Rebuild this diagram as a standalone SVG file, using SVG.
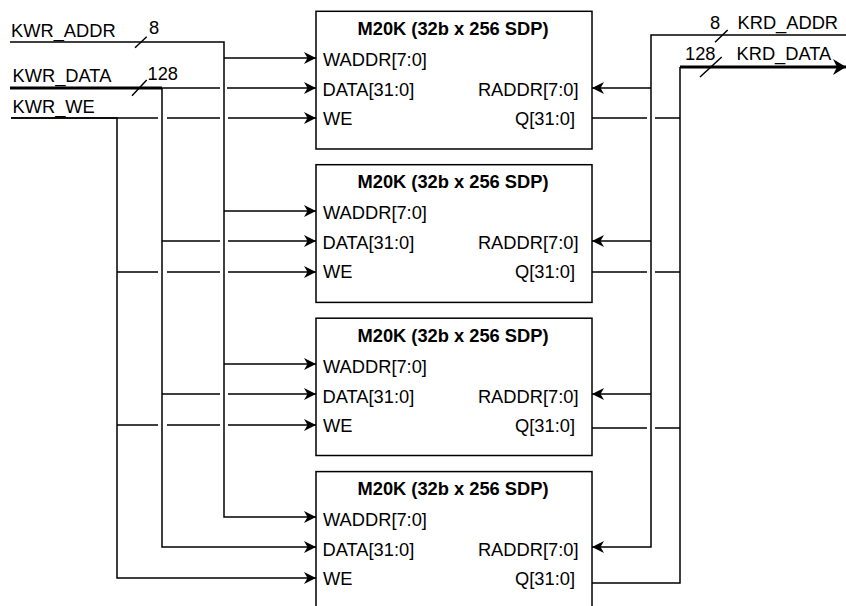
<svg xmlns="http://www.w3.org/2000/svg" width="846" height="606" viewBox="0 0 846 606">
<style>
text{font-family:"Liberation Sans",Arial,sans-serif;font-size:18.3px;fill:#000}
.t{font-weight:bold;text-anchor:middle}
.r{text-anchor:end}
.box{fill:#fff;stroke:#000;stroke-width:1.5}
.w{fill:none;stroke:#000;stroke-width:1.5}
.bus{fill:none;stroke:#000;stroke-width:3}
.a{marker-end:url(#arr)}
</style>
<defs>
<marker id="arr" markerUnits="userSpaceOnUse" viewBox="0 0 12 12" refX="12" refY="6" markerWidth="12" markerHeight="12" orient="auto">
<path d="M0,0 L12,6 L0,12 L3.5,6 Z" fill="#000"/>
</marker>
<marker id="arrBig" markerUnits="userSpaceOnUse" viewBox="0 0 13 16" refX="13" refY="8" markerWidth="13" markerHeight="16" orient="auto">
<path d="M0,0 L13,8 L0,16 L4,8 Z" fill="#000"/>
</marker>
</defs>
<rect width="846" height="606" fill="#fff"/>

<g id="m20k-1">
<rect class="box" x="316" y="11.3" width="276" height="137.7"/>
<text class="t" x="453" y="35">M20K (32b x 256 SDP)</text>
<text x="323" y="66">WADDR[7:0]</text>
<text x="322.5" y="96">DATA[31:0]</text>
<text x="323" y="125">WE</text>
<text class="r" x="578.5" y="96">RADDR[7:0]</text>
<text class="r" x="575" y="125">Q[31:0]</text>
</g>
<g id="m20k-2">
<rect class="box" x="316" y="164.7" width="276" height="137.7"/>
<text class="t" x="453" y="188.4">M20K (32b x 256 SDP)</text>
<text x="323" y="219.4">WADDR[7:0]</text>
<text x="322.5" y="249.4">DATA[31:0]</text>
<text x="323" y="278.4">WE</text>
<text class="r" x="578.5" y="249.4">RADDR[7:0]</text>
<text class="r" x="575" y="278.4">Q[31:0]</text>
</g>
<g id="m20k-3">
<rect class="box" x="316" y="318.2" width="276" height="137.3"/>
<text class="t" x="453" y="341.9">M20K (32b x 256 SDP)</text>
<text x="323" y="372.9">WADDR[7:0]</text>
<text x="322.5" y="402.9">DATA[31:0]</text>
<text x="323" y="431.9">WE</text>
<text class="r" x="578.5" y="402.9">RADDR[7:0]</text>
<text class="r" x="575" y="431.9">Q[31:0]</text>
</g>
<g id="m20k-4">
<rect class="box" x="316" y="471.6" width="276" height="140"/>
<text class="t" x="453" y="495.3">M20K (32b x 256 SDP)</text>
<text x="323" y="526.3">WADDR[7:0]</text>
<text x="322.5" y="556.3">DATA[31:0]</text>
<text x="323" y="585.3">WE</text>
<text class="r" x="578.5" y="556.3">RADDR[7:0]</text>
<text class="r" x="575" y="585.3">Q[31:0]</text>
</g>

<g id="connectors">
<!-- KWR_ADDR -->
<path class="w a" d="M10,42 H224 V517 H316"/>
<path class="w a" d="M224,58 H316"/>
<path class="w a" d="M224,211 H316"/>
<path class="w a" d="M224,364 H316"/>
<!-- KWR_DATA -->
<path class="bus" d="M10,88 H162"/>
<path class="w a" d="M162,88 V547 H316"/>
<path class="w a" d="M162,88 H220 M227,88 H316"/>
<path class="w a" d="M162,241 H220 M228,241 H316"/>
<path class="w a" d="M162,394 H220 M228,394 H316"/>
<!-- KWR_WE -->
<path class="w a" d="M11,118 H117 V578 H316"/>
<path class="w a" d="M11,118 H158 M167,118 H220 M228,118 H316"/>
<path class="w a" d="M117,272 H158 M167,272 H220 M228,272 H316"/>
<path class="w a" d="M117,425 H158 M167,425 H220 M228,425 H316"/>
<!-- KRD_ADDR -->
<path class="w a" d="M846,35 H651 V547 H592"/>
<path class="w a" d="M651,88 H592"/>
<path class="w a" d="M651,241 H592"/>
<path class="w a" d="M651,394 H592"/>
<!-- KRD_DATA -->
<path class="w" d="M680,67 V583 H592"/>
<path class="w" d="M592,118 H647 M655,118 H680"/>
<path class="w" d="M592,272 H647 M655,272 H680"/>
<path class="w" d="M592,428 H647 M655,428 H680"/>
<path class="bus" d="M680,67 H846" marker-end="url(#arrBig)"/>
<!-- bus width slashes -->
<path class="w" d="M135,47.7 L146.7,36.7 M132,95.7 L146.7,80 M715,42.3 L727.7,30 M700,77 L721.7,57" stroke-width="1.3"/>
</g>

<g id="labels">
<text x="11" y="37.3">KWR_ADDR</text>
<text x="12.5" y="82.3">KWR_DATA</text>
<text x="12.5" y="113.3">KWR_WE</text>
<text x="149" y="34.3">8</text>
<text x="147.5" y="80">128</text>
<text x="710" y="29">8</text>
<text x="737.5" y="29">KRD_ADDR</text>
<text x="685" y="60">128</text>
<text x="736.5" y="60">KRD_DATA</text>
</g>
</svg>
